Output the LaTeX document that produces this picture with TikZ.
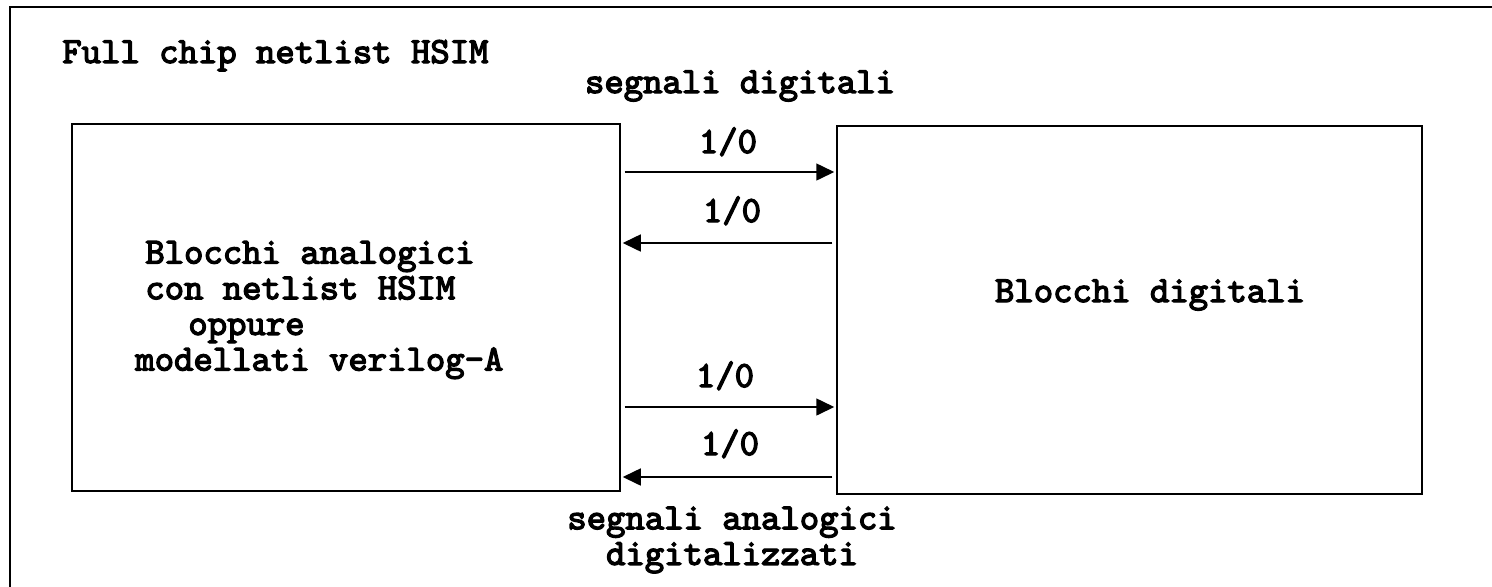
\documentclass[tikz,border=0pt]{standalone}
\usepackage{fontspec}
\newfontfamily\courbold{lmmono10-regular.otf}[FakeBold=3.5]
\usetikzlibrary{arrows.meta}
\tikzset{
  blockbox/.style={draw,line width=1.2pt,inner sep=0pt},
  sig/.style={line width=0.9pt,-{Triangle[length=0.36cm,width=0.34cm]},shorten >=1pt,shorten <=2pt},
  lbl/.style={font=\courbold\fontsize{21}{20.3}\selectfont,inner sep=0pt}
}
\begin{document}
\begin{tikzpicture}[x=0.02cm,y=-0.02cm]
\useasboundingbox (0,0) rectangle (1492,586);
\draw[line width=1.1pt] (10,590) -- (10,7) -- (1496,7);
\node[lbl,anchor=base west] (title) at (62,63) {Full chip netlist HSIM};
\node[blockbox,minimum width=10.96cm,minimum height=7.34cm] (analog) at (346,307.5) {};
\node[blockbox,minimum width=11.7cm,minimum height=7.36cm] (digital) at (1129.5,310) {};
\node[lbl,align=left,anchor=west] (atext) at (135,310) {\hspace*{0.2cm}Blocchi analogici\\\hspace*{0.2cm}con netlist HSIM\\\hspace*{1.06cm}oppure\\modellati verilog-A};
\node[lbl] (dtext) at (1150,295) {Blocchi digitali};
\node[lbl,anchor=base] (sdig) at (740,93) {segnali digitali};
\node[lbl,align=center] (sana) at (732,540) {segnali analogici\\digitalizzati};
\coordinate (r1) at (0,172);\coordinate (r2) at (0,243);
\coordinate (r3) at (0,407);\coordinate (r4) at (0,477);
\draw[sig] (analog.east |- r1) -- (digital.west |- r1);
\draw[sig] (digital.west |- r2) -- (analog.east |- r2);
\draw[sig] (analog.east |- r3) -- (digital.west |- r3);
\draw[sig] (digital.west |- r4) -- (analog.east |- r4);
\node[lbl,anchor=base] (b1) at (728,153) {1/0};
\node[lbl,anchor=base] (b2) at (732,222) {1/0};
\node[lbl,anchor=base] (b3) at (725,387) {1/0};
\node[lbl,anchor=base] (b4) at (730,455) {1/0};
\end{tikzpicture}
\end{document}
